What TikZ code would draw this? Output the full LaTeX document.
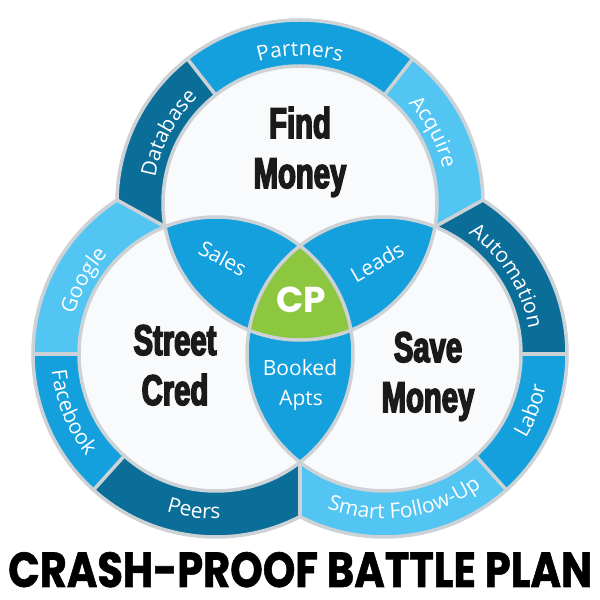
\documentclass[tikz,border=0pt]{standalone}
\usepackage{fontspec}
\usepackage{graphicx}
\usetikzlibrary{calc,decorations.text}
\newfontfamily\ringfont{Open Sans}
\newfontfamily\condfont{Liberation Sans}[UprightFont=* Bold,FakeStretch=0.68,FakeBold=3.5]
\newfontfamily\cpfont{Poppins}
\newfontfamily\titlefont{Poppins}[UprightFont=* Bold,FakeBold=1.2]
\definecolor{dkblue}{HTML}{0B6E99}
\definecolor{mdblue}{HTML}{14A0DC}
\definecolor{ltblue}{HTML}{52C5F2}
\definecolor{cpgreen}{HTML}{8DC63F}
\definecolor{rim}{HTML}{CDD2D6}
\definecolor{paper}{HTML}{F9FAFB}
\definecolor{ink}{HTML}{1A1A1A}
\newcommand\myringlabel[5]{%
  \path[decorate,decoration={text along path,text align=center,
    text={|\ringfont\fontsize{21}{21}\selectfont\color{white}|#5}}]
    ($(#1)+(#2:#4)$) arc[start angle=#2,end angle=#3,radius=#4];}
\begin{document}
\begin{tikzpicture}[x=1pt,y=1pt,
  rimline/.style={draw=rim,line width=3.5pt},
  biglabel/.style={font=\condfont\fontsize{43}{43}\selectfont,text=ink,anchor=base,inner sep=0pt},
  lenslabel/.style={font=\ringfont\fontsize{21}{21}\selectfont,text=white,inner sep=0pt}]
\useasboundingbox (0,0) rectangle (600,600);
\fill[white] (0,0) rectangle (600,600);
\coordinate (T) at (300,397);
\coordinate (L) at (216,246);
\coordinate (R) at (384,246);
\coordinate (O) at (300,298.1);
\coordinate (bTL) at (117,400);
\coordinate (bTR) at (483,400);
\coordinate (bLR) at (300,83.4);
% top ring
\begin{scope}
\clip (O) -- (-224,590) -- (-224,900) -- (824,900) -- (824,590) -- cycle;
\fill[dkblue] (T) -- ($(T)+(128:183)$) arc[start angle=128,end angle=215,radius=183] -- cycle;
\fill[mdblue] (T) -- ($(T)+(52:183)$) arc[start angle=52,end angle=128,radius=183] -- cycle;
\fill[ltblue] (T) -- ($(T)+(-35:183)$) arc[start angle=-35,end angle=52,radius=183] -- cycle;
\draw[rimline] (T) circle[radius=183];
\end{scope}
% left ring
\begin{scope}
\clip (O) -- (-224,590) -- (-224,-300) -- (300,-300) -- cycle;
\fill[ltblue] (L) -- ($(L)+(90:183)$) arc[start angle=90,end angle=180,radius=183] -- cycle;
\fill[mdblue] (L) -- ($(L)+(180:183)$) arc[start angle=180,end angle=228,radius=183] -- cycle;
\fill[dkblue] (L) -- ($(L)+(228:183)$) arc[start angle=228,end angle=320,radius=183] -- cycle;
\draw[rimline] (L) circle[radius=183];
\end{scope}
% right ring
\begin{scope}
\clip (O) -- (824,590) -- (824,-300) -- (300,-300) -- cycle;
\fill[dkblue] (R) -- ($(R)+(0:183)$) arc[start angle=0,end angle=90,radius=183] -- cycle;
\fill[mdblue] (R) -- ($(R)+(-48:183)$) arc[start angle=-48,end angle=0,radius=183] -- cycle;
\fill[ltblue] (R) -- ($(R)+(220:183)$) arc[start angle=220,end angle=312,radius=183] -- cycle;
\draw[rimline] (R) circle[radius=183];
\end{scope}
% dividers
\draw[rimline] ($(T)+(128:137)$) -- ($(T)+(128:182)$);
\draw[rimline] ($(T)+(52:137)$) -- ($(T)+(52:182)$);
\draw[rimline] ($(L)+(180:137)$) -- ($(L)+(180:182)$);
\draw[rimline] ($(L)+(228:137)$) -- ($(L)+(228:182)$);
\draw[rimline] ($(R)+(0:137)$) -- ($(R)+(0:182)$);
\draw[rimline] ($(R)+(312:137)$) -- ($(R)+(312:182)$);
\draw[rimline] (O) -- (bTL);
\draw[rimline] (O) -- (bTR);
\draw[rimline] (O) -- (bLR);
% inner disks
\fill[paper] (T) circle[radius=137];
\fill[paper] (L) circle[radius=137];
\fill[paper] (R) circle[radius=137];
\begin{scope}
\clip (T) circle[radius=137];
\fill[mdblue] (L) circle[radius=137];
\fill[mdblue] (R) circle[radius=137];
\end{scope}
\begin{scope}
\clip (L) circle[radius=137];
\fill[mdblue] (R) circle[radius=137];
\end{scope}
\begin{scope}
\clip (T) circle[radius=137];
\clip (L) circle[radius=137];
\fill[cpgreen] (R) circle[radius=137];
\end{scope}
\draw[rimline] (T) circle[radius=137];
\draw[rimline] (L) circle[radius=137];
\draw[rimline] (R) circle[radius=137];
% ring labels
\myringlabel{T}{192}{112}{147}{Database}
\myringlabel{T}{130}{50}{147}{Partners}
\myringlabel{T}{68}{-12}{147}{Acquire}
\myringlabel{L}{191}{111}{147}{Google}
\myringlabel{L}{157}{247}{165}{Facebook}
\myringlabel{L}{222}{302}{165}{Peers}
\myringlabel{R}{77}{-12}{147}{Automation}
\myringlabel{R}{-61}{19}{165}{Labor}
\myringlabel{R}{-135}{-29}{165}{Smart Follow-Up}
% big labels
\node[biglabel] (find) at (300,462) {Find};
\node[biglabel] (findm) at (300,412) {Money};
\node[biglabel] (street) at (175,245) {Street};
\node[biglabel] (cred) at (175,195) {Cred};
\node[biglabel] (save) at (428,238) {Save};
\node[biglabel] (savem) at (428,188) {Money};
% lens labels
\node[lenslabel,rotate=-28] (sales) at (223,342) {Sales};
\node[lenslabel,rotate=30] (leads) at (377,338) {Leads};
\node[lenslabel] (booked) at (300,232) {Booked};
\node[lenslabel] (apts) at (301,200) {Apts};
\node[font=\cpfont\bfseries\fontsize{36}{36}\selectfont,text=white,anchor=base,inner sep=0pt] (cp) at (301,287) {CP};
% title
\node[anchor=base west,inner sep=0pt] (title) at (8,13) {\resizebox{584pt}{35pt}{\titlefont CRASH-PROOF BATTLE PLAN}};
\end{tikzpicture}
\end{document}
